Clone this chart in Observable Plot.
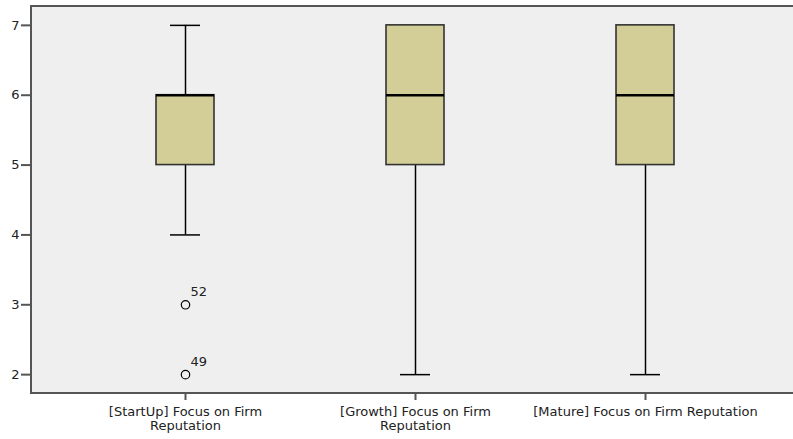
<!DOCTYPE html>
<html>
<head>
<meta charset="utf-8">
<script src="https://cdn.jsdelivr.net/npm/d3@7"></script>
<script src="https://cdn.jsdelivr.net/npm/@observablehq/plot@0.6"></script>
<style>
  body { margin: 0; background: #fff; }
  #chart svg { display: block; }
</style>
</head>
<body>
<div id="chart"></div>
<script>
// Groups (company stage) and their axis labels
const groups = [
  "[StartUp] Focus on Firm Reputation",
  "[Growth] Focus on Firm Reputation",
  "[Mature] Focus on Firm Reputation"
];
const groupLabels = [
  "[StartUp] Focus on Firm\nReputation",
  "[Growth] Focus on Firm\nReputation",
  "[Mature] Focus on Firm Reputation"
];

// Five-number summaries per group
const whiskerLow = [4, 2, 2];
const quartile1 = [5, 5, 5];
const medians = [6, 6, 6];
const quartile3 = [6, 7, 7];
const whiskerHigh = [7, 7, 7];

// Outliers with their case numbers
const outlierGroups = [groups[0], groups[0]];
const outlierValues = [3, 2];
const outlierCases = ["52", "49"];

// Value axis
const yTicks = [2, 3, 4, 5, 6, 7];
const yDomain = [1.73, 7.27];

const stats = groups.map((g, i) => ({
  group: g,
  low: whiskerLow[i],
  q1: quartile1[i],
  median: medians[i],
  q3: quartile3[i],
  high: whiskerHigh[i]
}));
const outliers = outlierValues.map((v, i) => ({
  group: outlierGroups[i],
  value: v,
  label: outlierCases[i]
}));
const labelOf = new Map(groups.map((g, i) => [g, groupLabels[i]]));

const boxFill = "#d3ce98";
const axisGray = "#555";
const font = "'DejaVu Sans', sans-serif";

// Top, left and bottom border lines of the plotting area
function borders(index, scales, values, dims) {
  const { marginLeft, marginTop, marginBottom, width, height } = dims;
  const g = d3.create("svg:g")
    .attr("stroke", axisGray)
    .attr("stroke-width", 2)
    .attr("fill", "none");
  const y0 = marginTop, y1 = height - marginBottom;
  g.append("path")
    .attr("d", `M${width},${y0}H${marginLeft}V${y1}H${width}`);
  return g.node();
}

const chart = Plot.plot({
  width: 793,
  height: 439,
  marginLeft: 31,
  marginRight: 0,
  marginTop: 6,
  marginBottom: 46,
  style: { fontFamily: font, fontSize: "13px", color: "#222", background: "#fff" },
  x: { type: "band", domain: groups, range: [70, 760], padding: 0 },
  y: { domain: yDomain },
  marks: [
    Plot.frame({ fill: "#efefef", stroke: "none" }),
    // whiskers
    Plot.ruleX(stats, { x: "group", y1: "low", y2: "q1", stroke: "#000", strokeWidth: 1.5 }),
    Plot.ruleX(stats, { x: "group", y1: "q3", y2: "high", stroke: "#000", strokeWidth: 1.5 }),
    Plot.tickY(stats, { x: "group", y: "low", stroke: "#000", strokeWidth: 1.5, insetLeft: 100, insetRight: 100 }),
    Plot.tickY(stats, { x: "group", y: "high", stroke: "#000", strokeWidth: 1.5, insetLeft: 100, insetRight: 100 }),
    // boxes
    Plot.barY(stats, { x: "group", y1: "q1", y2: "q3", fill: boxFill, stroke: "#333", strokeWidth: 1.6, insetLeft: 86, insetRight: 86 }),
    Plot.tickY(stats, { x: "group", y: "median", stroke: "#000", strokeWidth: 2.5, insetLeft: 86, insetRight: 86 }),
    // outliers
    Plot.dot(outliers, { x: "group", y: "value", r: 4.2, stroke: "#000", strokeWidth: 1.2, fill: "#efefef" }),
    Plot.text(outliers, { x: "group", y: "value", text: "label", dx: 5, dy: -13, textAnchor: "start", fill: "#222", fontSize: 13 }),
    borders,
    Plot.axisY({ ticks: yTicks, tickSize: 10, tickPadding: 2, tickFormat: "d", label: null, stroke: axisGray, strokeWidth: 2, fill: "#222", fontSize: 13 }),
    Plot.axisX({ tickSize: 7, tickPadding: 5, tickFormat: (d) => labelOf.get(d), label: null, stroke: axisGray, strokeWidth: 2, fill: "#222", fontSize: 13, lineHeight: 1.12 })
  ]
});

document.getElementById("chart").appendChild(chart);
</script>
</body>
</html>
